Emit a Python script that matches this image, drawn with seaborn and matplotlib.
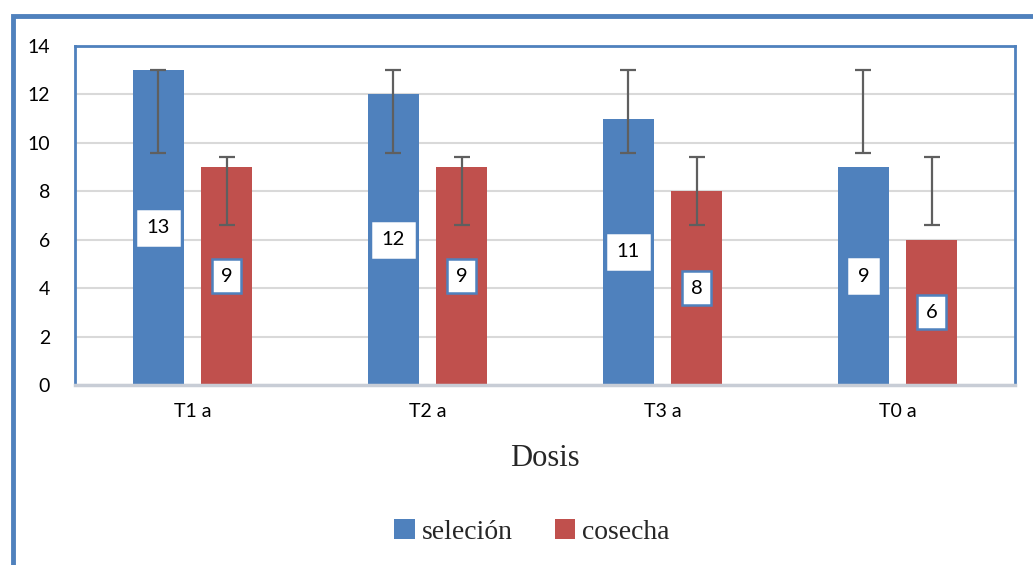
import matplotlib
matplotlib.use("Agg")
import matplotlib.pyplot as plt
import seaborn as sns
import pandas as pd
from matplotlib.patches import Rectangle, Patch
from matplotlib.container import BarContainer

# ---- data ----
categories = ["T1 a", "T2 a", "T3 a", "T0 a"]
series = ["seleción", "cosecha"]
seleccion = [13, 12, 11, 9]
cosecha = [9, 9, 8, 6]
# error bar extents (lower, upper)
sel_err_low = [9.57, 9.57, 9.57, 9.57]
sel_err_high = [13, 13, 13, 13]
cos_err_low = [6.6, 6.6, 6.6, 6.6]
cos_err_high = [9.42, 9.42, 9.42, 9.42]
y_ticks = [0, 2, 4, 6, 8, 10, 12, 14]

BLUE = "#4F81BD"
RED = "#C0504D"

df = pd.DataFrame({
    "cat": categories * 2,
    "serie": [series[0]] * 4 + [series[1]] * 4,
    "val": seleccion + cosecha,
})

sns.set_theme(style="white")
plt.rcParams["font.family"] = ["Lato", "DejaVu Sans"]

fig = plt.figure(figsize=(10.33, 5.65), dpi=100)
ax = fig.add_axes([75 / 1033, 1 - 385 / 565, 940 / 1033, 339 / 565])

sns.barplot(data=df, x="cat", y="val", hue="serie", order=categories,
            hue_order=series, palette=[BLUE, RED], width=0.58, gap=0.24,
            saturation=1, errorbar=None, legend=False, ax=ax)

bar_containers = [c for c in ax.containers if isinstance(c, BarContainer)]
lows = [sel_err_low, cos_err_low]
highs = [sel_err_high, cos_err_high]
for ci, cont in enumerate(bar_containers):
    for pi, p in enumerate(cont.patches):
        p.set_edgecolor("none")
        xc = p.get_x() + p.get_width() / 2
        lo, hi = lows[ci][pi], highs[ci][pi]
        ax.errorbar([xc], [(lo + hi) / 2], yerr=[(hi - lo) / 2],
                    fmt="none", ecolor="#5f5f5f", elinewidth=1.6, capsize=6,
                    capthick=1.6, zorder=4)
    edge = "white" if ci == 0 else BLUE
    ax.bar_label(cont, label_type="center", fontsize=14.5, color="black",
                 bbox=dict(boxstyle="square,pad=0.42", fc="white", ec=edge, lw=1.8),
                 zorder=5)

ax.set_ylim(0, 14)
ax.set_yticks(y_ticks)
ax.set_xlim(-0.5, 3.5)
ax.yaxis.grid(True, color="#D9D9D9", linewidth=1.5)
ax.set_axisbelow(True)
ax.tick_params(axis="both", length=0, labelsize=14, colors="black")
ax.tick_params(axis="y", pad=18)
ax.tick_params(axis="x", pad=13)
ax.set_xlabel("")
ax.set_ylabel("")
for s in ["top", "right", "left"]:
    ax.spines[s].set_color(BLUE)
    ax.spines[s].set_linewidth(2)
ax.spines["bottom"].set_color("#C8CDD6")
ax.spines["bottom"].set_linewidth(2.5)

fig.text(545 / 1033, 1 - 458 / 565, "Dosis", ha="center", va="center",
         fontsize=22, family="Liberation Serif")

handles = [Patch(facecolor=BLUE, edgecolor="none"), Patch(facecolor=RED, edgecolor="none")]
fig.legend(handles, series, loc="center", bbox_to_anchor=(532 / 1033, 1 - 532 / 565),
           ncol=2, frameon=False, prop={"family": "Liberation Serif", "size": 20},
           handlelength=0.75, handleheight=0.75, handletextpad=0.25, columnspacing=1.5)

# outer chart frame
fig.patches.append(Rectangle((13 / 1033, -0.1), 1.2, 1 - 16 / 565 + 0.1,
                             transform=fig.transFigure, fill=False,
                             edgecolor=BLUE, linewidth=3.5, zorder=0))

fig.savefig("out.png", dpi=100, facecolor="white")
